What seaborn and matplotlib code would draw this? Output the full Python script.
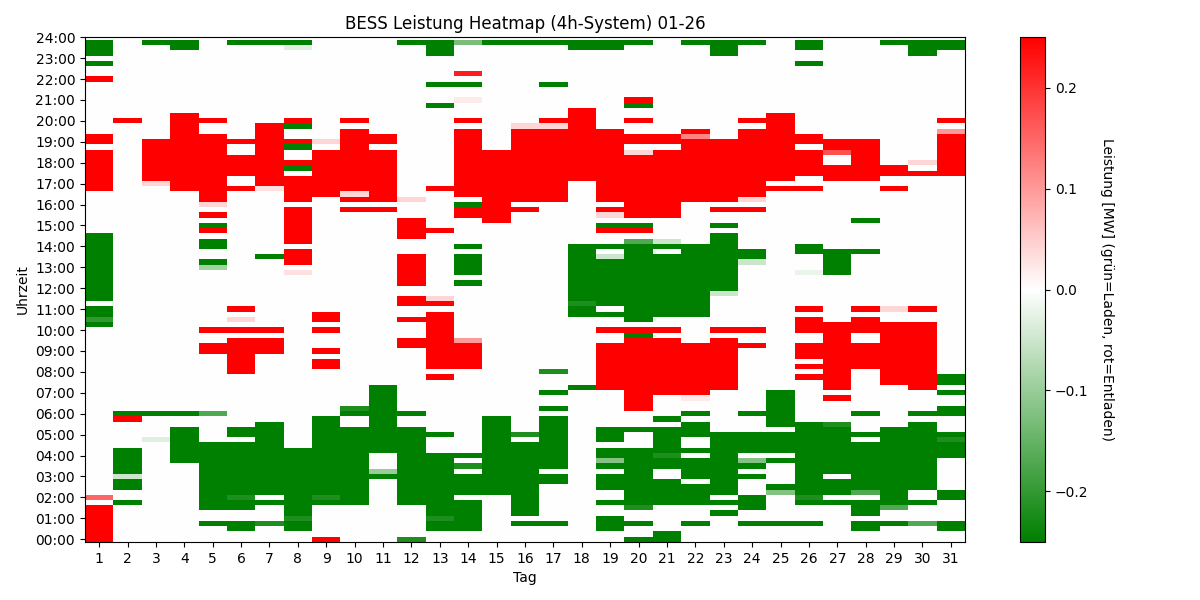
import numpy as np
import pandas as pd
import matplotlib
matplotlib.use("Agg")
import matplotlib.pyplot as plt
import seaborn as sns
from matplotlib.colors import LinearSegmentedColormap

# Leistung in MW: C = volle Ladung (grün), D = volle Entladung (rot)
C = -0.25
D = 0.25

# Blöcke je Tag: (von, bis, Leistung)
tag01 = [("00:00", "01:45", D), ("02:00", "02:15", 0.15), ("10:15", "11:15", C), ("10:30", "10:45", -0.2),
         ("11:30", "14:45", C), ("16:45", "18:45", D), ("19:00", "19:30", D), ("22:00", "22:15", D),
         ("22:45", "23:00", C), ("23:15", "24:00", C)]
tag02 = [("01:45", "02:00", C), ("02:30", "04:30", C), ("03:00", "03:15", -0.05), ("05:45", "06:00", D),
         ("06:00", "06:15", C), ("20:00", "20:15", D)]
tag03 = [("04:45", "05:00", -0.03), ("06:00", "06:15", C), ("17:00", "17:15", 0.04), ("17:15", "19:15", D),
         ("23:45", "24:00", C)]
tag04 = [("03:45", "05:30", C), ("06:00", "06:15", C), ("16:45", "20:30", D), ("23:30", "24:00", C)]
tag05 = [("00:45", "01:00", C), ("01:30", "04:45", C), ("06:00", "06:15", -0.17), ("09:00", "09:30", D),
         ("10:00", "10:15", D), ("13:00", "13:15", -0.09), ("13:15", "13:30", C), ("14:00", "14:30", C),
         ("14:45", "15:00", D), ("15:00", "15:15", C), ("15:30", "15:45", D), ("16:00", "16:15", 0.04),
         ("16:15", "19:30", D), ("20:00", "20:15", D)]
tag06 = [("00:30", "01:00", C), ("01:30", "02:00", C), ("02:00", "02:15", -0.22), ("02:15", "04:45", C),
         ("05:00", "05:30", C), ("08:00", "09:45", D), ("10:00", "10:15", D), ("10:30", "10:45", 0.04),
         ("11:00", "11:15", D), ("16:45", "17:00", D), ("17:30", "18:30", D), ("19:00", "19:15", D),
         ("23:45", "24:00", C)]
tag07 = [("00:45", "01:00", -0.22), ("01:45", "02:00", C), ("02:15", "05:45", C), ("09:00", "09:45", D),
         ("10:00", "10:15", D), ("13:30", "13:45", C), ("16:45", "17:00", 0.03), ("17:00", "20:00", D),
         ("23:45", "24:00", C)]
tag08 = [("00:30", "04:30", C), ("01:00", "01:15", -0.22), ("12:45", "13:00", 0.03), ("13:15", "14:00", D),
         ("14:15", "16:00", D), ("16:15", "17:30", D), ("17:45", "18:00", C), ("18:00", "18:15", D),
         ("18:45", "19:00", C), ("19:00", "19:15", D), ("19:45", "20:00", C), ("20:00", "20:15", D),
         ("23:30", "23:45", -0.03), ("23:45", "24:00", C)]
tag09 = [("00:00", "00:15", D), ("01:45", "06:00", C), ("02:00", "02:15", -0.22), ("08:15", "08:45", D),
         ("09:00", "09:15", D), ("10:00", "10:15", D), ("10:30", "11:00", D), ("16:30", "18:45", D),
         ("19:00", "19:15", 0.04)]
tag10 = [("01:45", "05:30", C), ("06:00", "06:15", C), ("06:15", "06:30", -0.22), ("15:45", "16:00", D),
         ("16:15", "16:30", D), ("16:30", "16:45", 0.04), ("16:45", "19:45", D), ("20:00", "20:15", D)]
tag11 = [("03:00", "03:15", C), ("03:15", "03:30", -0.1), ("04:15", "07:30", C), ("15:45", "16:00", D),
         ("16:15", "18:45", D), ("19:00", "19:30", D)]
tag12 = [("00:00", "00:15", -0.22), ("01:45", "05:30", C), ("06:00", "06:15", C), ("09:15", "09:45", D),
         ("10:30", "10:45", D), ("11:15", "11:45", D), ("12:15", "13:45", D), ("14:30", "15:30", D),
         ("16:15", "16:30", 0.04), ("23:45", "24:00", C)]
tag13 = [("00:30", "04:15", C), ("01:00", "01:15", -0.22), ("05:00", "05:15", C), ("07:45", "08:00", D),
         ("08:15", "11:00", D), ("11:15", "11:30", D), ("11:30", "11:45", 0.04), ("14:45", "15:00", D),
         ("16:45", "17:00", D), ("20:45", "21:00", C), ("21:45", "22:00", C), ("23:15", "24:00", C)]
tag14 = [("00:30", "02:00", C), ("02:15", "03:15", C), ("03:30", "03:45", -0.22), ("04:00", "04:15", C),
         ("08:15", "09:30", D), ("09:30", "09:45", 0.1), ("12:15", "12:30", C), ("12:45", "13:45", C),
         ("14:00", "14:15", C), ("15:30", "16:00", D), ("16:00", "16:15", C), ("16:30", "19:45", D),
         ("20:00", "20:15", D), ("21:00", "21:15", 0.02), ("21:45", "22:00", C), ("22:15", "22:30", 0.22),
         ("23:45", "24:00", -0.13)]
tag15 = [("02:15", "06:00", C), ("15:15", "18:45", D), ("23:45", "24:00", C)]
tag16 = [("00:45", "01:00", C), ("01:15", "04:45", C), ("05:00", "05:15", -0.22), ("15:45", "16:00", D),
         ("16:15", "19:45", D), ("19:45", "20:00", 0.04), ("23:45", "24:00", C)]
tag17 = [("00:45", "01:00", C), ("02:45", "03:15", C), ("03:30", "06:00", C), ("06:15", "06:30", C),
         ("07:00", "07:15", C), ("08:00", "08:15", -0.22), ("16:15", "19:45", D), ("19:45", "20:00", 0.04),
         ("20:00", "20:15", D), ("21:45", "22:00", C), ("23:45", "24:00", C)]
tag18 = [("07:15", "07:30", C), ("10:45", "14:15", C), ("11:15", "11:30", -0.22), ("17:15", "20:45", D),
         ("23:30", "24:00", C)]
tag19 = [("00:30", "01:15", C), ("01:45", "02:00", C), ("02:30", "03:15", C), ("03:30", "03:45", C),
         ("03:45", "04:00", -0.12), ("04:00", "04:30", C), ("04:45", "05:30", C), ("07:15", "09:30", D),
         ("10:00", "10:15", D), ("10:45", "11:00", C), ("11:15", "13:30", C), ("13:30", "13:45", -0.05),
         ("14:00", "14:15", C), ("14:45", "15:00", D), ("15:00", "15:15", C), ("15:30", "15:45", 0.04),
         ("15:45", "16:00", D), ("16:15", "19:45", D), ("23:30", "24:00", C)]
tag20 = [("00:00", "00:15", C), ("00:45", "01:00", C), ("01:30", "01:45", -0.22), ("01:45", "04:30", C),
         ("05:15", "05:30", C), ("06:15", "09:45", D), ("09:45", "10:00", C), ("10:00", "10:15", D),
         ("10:30", "14:15", C), ("14:15", "14:30", -0.17), ("14:45", "15:00", D), ("15:00", "15:15", C),
         ("15:30", "18:30", D), ("18:30", "18:45", 0.04), ("19:00", "19:30", D), ("20:00", "20:15", D),
         ("20:45", "21:00", C), ("21:00", "21:15", D), ("23:45", "24:00", C)]
tag21 = [("00:00", "00:30", C), ("01:45", "03:00", C), ("03:30", "04:00", C), ("04:00", "04:15", -0.22),
         ("04:15", "05:30", C), ("05:45", "06:00", C), ("07:00", "09:45", D), ("10:00", "10:15", D),
         ("10:45", "13:45", C), ("14:00", "14:15", C), ("14:15", "14:30", -0.05), ("15:30", "18:45", D),
         ("19:00", "19:30", D)]
tag22 = [("00:45", "01:00", C), ("01:45", "02:45", C), ("03:00", "04:00", C), ("04:15", "04:30", C),
         ("05:00", "05:45", C), ("06:00", "06:15", C), ("06:45", "07:00", 0.02), ("07:00", "09:30", D),
         ("10:45", "14:15", C), ("16:15", "19:15", D), ("19:15", "19:30", 0.12), ("19:30", "19:45", D),
         ("23:45", "24:00", C)]
tag23 = [("01:15", "01:30", C), ("01:45", "02:00", C), ("02:15", "05:15", C), ("07:15", "09:45", D),
         ("10:00", "10:15", D), ("11:45", "12:00", -0.05), ("12:00", "14:45", C), ("15:00", "15:15", C),
         ("15:45", "16:00", D), ("16:15", "19:15", D), ("23:15", "24:00", C)]
tag24 = [("00:45", "01:00", C), ("01:30", "02:15", C), ("03:00", "03:15", C), ("03:30", "03:45", C),
         ("03:45", "04:00", -0.12), ("04:15", "05:15", C), ("06:00", "06:15", C), ("09:15", "09:30", D),
         ("10:00", "10:15", D), ("13:15", "13:30", -0.05), ("13:30", "14:00", C), ("15:45", "16:00", D),
         ("16:15", "16:30", 0.04), ("16:30", "19:45", D), ("20:00", "20:15", D), ("23:45", "24:00", C)]
tag25 = [("00:45", "01:00", C), ("02:15", "02:30", -0.12), ("02:30", "02:45", C), ("03:45", "04:00", C),
         ("04:15", "05:15", C), ("05:30", "07:15", C), ("16:45", "17:00", D), ("17:15", "20:30", D)]
tag26 = [("00:45", "01:00", C), ("01:45", "05:45", C), ("02:00", "02:15", -0.22), ("07:45", "08:00", D),
         ("08:15", "08:30", D), ("08:45", "09:30", D), ("10:00", "10:45", D), ("11:00", "11:15", D),
         ("12:45", "13:00", -0.02), ("13:45", "14:15", C), ("16:45", "17:00", D), ("17:30", "18:45", D),
         ("19:00", "19:30", D), ("22:45", "23:00", C), ("23:30", "24:00", C)]
tag27 = [("01:45", "02:00", C), ("02:15", "03:00", C), ("03:15", "05:30", C), ("05:30", "05:45", -0.22),
         ("06:45", "07:00", D), ("07:15", "10:30", D), ("12:45", "14:00", C), ("17:15", "18:00", D),
         ("18:30", "18:45", 0.17), ("18:45", "19:15", D)]
tag28 = [("00:30", "01:00", C), ("01:15", "02:00", C), ("02:15", "02:30", -0.17), ("02:30", "04:45", C),
         ("05:00", "05:15", C), ("06:00", "06:15", C), ("08:15", "09:30", D), ("10:00", "10:45", D),
         ("11:00", "11:15", D), ("13:45", "14:00", C), ("15:15", "15:30", C), ("17:15", "19:15", D)]
tag29 = [("00:45", "01:00", C), ("01:30", "01:45", -0.17), ("01:45", "05:30", C), ("07:30", "10:30", D),
         ("11:00", "11:15", 0.04), ("16:45", "17:00", D), ("17:30", "18:00", D), ("23:45", "24:00", C)]
tag30 = [("00:45", "01:00", -0.17), ("01:45", "02:00", C), ("02:30", "05:45", C), ("06:00", "06:15", C),
         ("07:15", "10:30", D), ("11:00", "11:15", D), ("17:30", "17:45", D), ("18:00", "18:15", 0.04),
         ("23:15", "24:00", C)]
tag31 = [("00:30", "01:00", C), ("02:00", "02:30", C), ("04:00", "05:15", C), ("04:45", "05:00", -0.22),
         ("06:00", "06:30", C), ("07:00", "07:15", C), ("07:30", "08:00", C), ("17:30", "19:30", D),
         ("19:30", "19:45", 0.1), ("20:00", "20:15", D), ("23:30", "24:00", C)]

tage = [tag01, tag02, tag03, tag04, tag05, tag06, tag07, tag08, tag09, tag10, tag11, tag12, tag13,
        tag14, tag15, tag16, tag17, tag18, tag19, tag20, tag21, tag22, tag23, tag24, tag25, tag26,
        tag27, tag28, tag29, tag30, tag31]
tag_nr = list(range(1, 32))
viertelstunden = [f"{h:02d}:{m:02d}" for h in range(24) for m in (0, 15, 30, 45)]
stunden_labels = [f"{h:02d}:00" for h in range(25)]


def slot(t):
    h, m = t.split(":")
    return int(h) * 4 + int(m) // 15


# 96 Viertelstunden x 31 Tage
werte = np.zeros((len(viertelstunden), len(tag_nr)))
for j, bloecke in enumerate(tage):
    for von, bis, p in bloecke:
        werte[slot(von):slot(bis), j] = p

df = pd.DataFrame(werte, index=viertelstunden, columns=tag_nr)

cmap = LinearSegmentedColormap.from_list("laden_entladen", ["green", "white", "red"])

fig = plt.figure(figsize=(12, 6), dpi=100)
ax = fig.add_axes([0.0708, 0.097, 0.7334, 0.841])
cax = fig.add_axes([0.85, 0.097, 0.021, 0.841])

sns.heatmap(df, ax=ax, cbar_ax=cax, cmap=cmap, vmin=-0.25, vmax=0.25,
            xticklabels=tag_nr, yticklabels=False)

# 00:00 unten, wie bei imshow(origin='lower')
ax.set_ylim(0, len(viertelstunden) + 0.5)
ax.set_yticks(np.arange(0, 97, 4) + 0.5)
ax.set_yticklabels(stunden_labels, rotation=0)
ax.set_xticklabels(tag_nr, rotation=0)
ax.tick_params(axis="both", length=3.5, labelsize=10)
for s in ax.spines.values():
    s.set_visible(True)
    s.set_linewidth(0.8)

ax.set_title("BESS Leistung Heatmap (4h-System) 01-26", fontsize=12)
ax.set_xlabel("Tag", fontsize=10)
ax.set_ylabel("Uhrzeit", fontsize=10)

cb = ax.collections[0].colorbar
cb.outline.set_linewidth(0.8)
cb.set_ticks([-0.2, -0.1, 0.0, 0.1, 0.2])
cb.ax.tick_params(labelsize=10)
cb.set_label("Leistung [MW] (grün=Laden, rot=Entladen)", rotation=270, labelpad=18, fontsize=10)

fig.savefig("out.png", dpi=100)
